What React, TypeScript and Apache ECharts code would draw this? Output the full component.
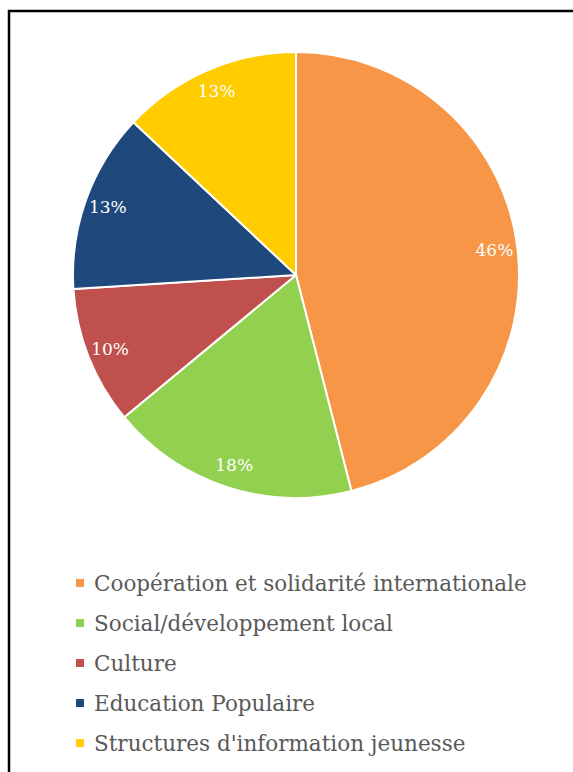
import React, { useEffect, useRef } from "react";
import * as echarts from "echarts";

const categories = [
  "Coopération et solidarité internationale",
  "Social/développement local",
  "Culture",
  "Education Populaire",
  "Structures d'information jeunesse",
];
const values = [46, 18, 10, 13, 13];
const colors = ["#F79646", "#92D050", "#C0504D", "#1F497D", "#FFCC00"];

export default function App() {
  const ref = useRef<HTMLDivElement>(null);
  useEffect(() => {
    if (!ref.current) return;
    const chart = echarts.init(ref.current, null, { renderer: "svg" });
    const data = categories.map((name, i) => ({
      name,
      value: values[i],
      itemStyle: { color: colors[i] },
    }));
    const total = values.reduce((a, b) => a + b, 0);
    chart.setOption({
      animation: false,
      backgroundColor: "#ffffff",
      graphic: [
        {
          type: "rect",
          shape: { x: 9, y: 11, width: 700, height: 900 },
          style: { fill: "none", stroke: "#000000", lineWidth: 2.5 },
          silent: true,
        },
      ],
      legend: {
        orient: "vertical",
        left: 74,
        top: 572,
        padding: 0,
        icon: "rect",
        itemWidth: 10,
        itemHeight: 10,
        itemGap: 18,
        data: categories,
        textStyle: {
          fontFamily: "DejaVu Serif",
          fontSize: 21.5,
          color: "#595959",
          lineHeight: 22,
          padding: [0, 0, 0, 4],
        },
      },
      series: [
        {
          type: "pie",
          center: [296, 275],
          radius: [0, 223],
          startAngle: 90,
          clockwise: true,
          label: { show: false },
          labelLine: { show: false },
          itemStyle: { borderColor: "#ffffff", borderWidth: 2 },
          emphasis: { disabled: true },
          data,
        },
        {
          type: "pie",
          center: [296, 275],
          radius: [171, 223],
          startAngle: 90,
          clockwise: true,
          silent: true,
          label: {
            show: true,
            position: "inside",
            color: "#ffffff",
            fontFamily: "DejaVu Serif",
            fontSize: 17,
            formatter: (p: any) => Math.round((p.value / total) * 100) + "%",
          },
          labelLine: { show: false },
          itemStyle: { color: "rgba(0,0,0,0)", borderWidth: 0 },
          emphasis: { disabled: true },
          data: categories.map((name, i) => ({ name, value: values[i] })),
        },
      ],
    });
    return () => chart.dispose();
  }, []);
  return (
    <div
      ref={ref}
      style={{ position: "fixed", left: 0, top: 0, width: 573, height: 772 }}
    />
  );
}
